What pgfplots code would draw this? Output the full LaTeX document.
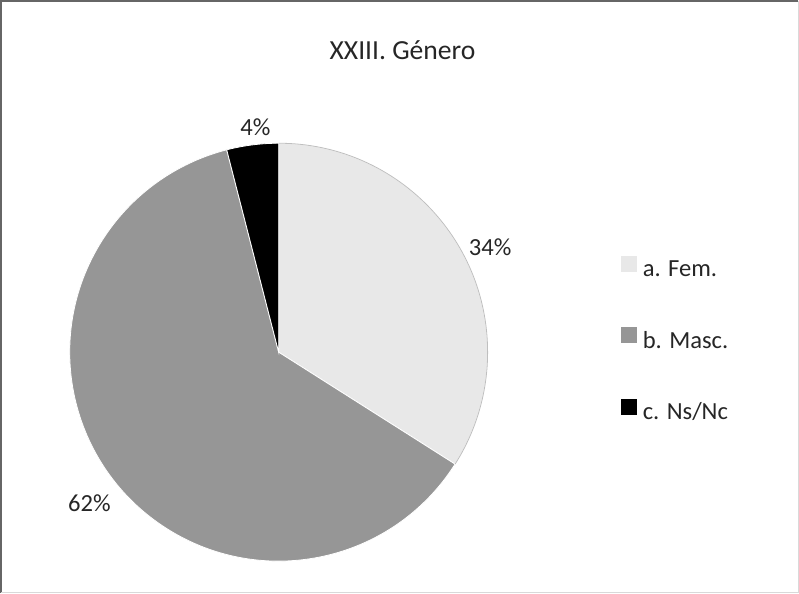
\documentclass[border=0pt]{standalone}
\usepackage{pgfplots}
\pgfplotsset{compat=1.18}
\usepackage{pgfplotstable}
\usepackage{fontspec}
\setmainfont{Carlito}
\definecolor{slice0}{RGB}{232,232,232}
\definecolor{slice1}{RGB}{150,150,150}
\definecolor{slice2}{RGB}{0,0,0}
\definecolor{txt}{RGB}{38,38,38}
\pgfplotstableread{
label value
a 34
b 62
c 4
}\piedata
\begin{document}
\begin{tikzpicture}
\begin{axis}[scale only axis, width=799bp, height=594bp,
  xmin=0, xmax=799, ymin=0, ymax=594, hide axis, clip=false,
  legend style={at={(axis cs:621,336)}, anchor=north west, draw=none, fill=none,
    inner sep=0pt, row sep=47bp, font=\fontsize{24.5}{29}\selectfont, text=txt,
    nodes={inner sep=2bp},
    /tikz/every odd column/.append style={column sep=4bp}},
  legend cell align=left]
\draw[black!60, line width=1.5bp] (axis cs:5,1) -- (axis cs:5,589) -- (axis cs:797,589);
\draw[black!15, line width=1bp] (axis cs:797,589) -- (axis cs:797,1) -- (axis cs:5,1);
\xdef\startang{90}
\pgfplotstableforeachcolumnelement{value}\of\piedata\as\v{%
  \pgfmathsetmacro\endang{\startang-3.6*\v}%
  \edef\cmd{\noexpand\fill[slice\pgfplotstablerow, draw=white, line width=0.8bp] (axis cs:281,240) -- ++(\startang:207.5bp) arc[start angle=\startang, end angle=\endang, radius=207.5bp] -- cycle;}%
  \cmd
  \xdef\startang{\endang}%
}
\draw[black!25, line width=0.8bp] (axis cs:281,240) ++(90:207.5bp) arc[start angle=90, end angle=-32.4, radius=207.5bp];
\node[anchor=base, text=txt, font=\fontsize{27.5}{32}\selectfont] at (axis cs:404,531) {XXIII. Género};
\node[anchor=base, text=txt, font=\fontsize{24.5}{29}\selectfont] at (axis cs:491,336) {34\%};
\node[anchor=base, text=txt, font=\fontsize{24.5}{29}\selectfont] at (axis cs:93,82) {62\%};
\node[anchor=base, text=txt, font=\fontsize{24.5}{29}\selectfont] at (axis cs:258,455) {4\%};
\addlegendimage{legend image code/.code={\fill[slice0] (0bp,-2bp) rectangle (15bp,13bp);}}
\addlegendentry{a. Fem.}
\addlegendimage{legend image code/.code={\fill[slice1] (0bp,-2bp) rectangle (15bp,13bp);}}
\addlegendentry{b. Masc.}
\addlegendimage{legend image code/.code={\fill[slice2] (0bp,-2bp) rectangle (15bp,13bp);}}
\addlegendentry{c. Ns/Nc}
\end{axis}
\end{tikzpicture}
\end{document}
